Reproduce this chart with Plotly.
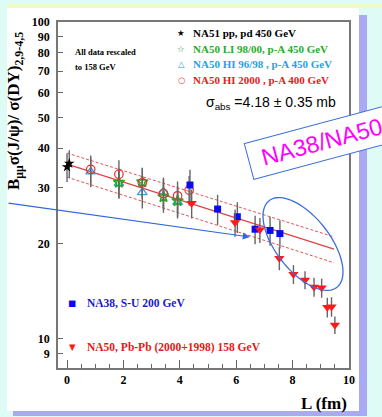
import numpy as np
import plotly.graph_objects as go

# ---------------- data ----------------
na51_L = [0.0, 0.08]
na51_v = [34.9, 35.8]
na51_e = [3.6, 3.6]

li_L = [1.84, 2.67, 3.42, 3.92]
li_v = [31.2, 31.3, 28.1, 27.3]
li_e = [3.3, 3.4, 3.1, 3.0]

hi9698_L = [0.84, 1.84, 2.67, 3.42, 3.92]
hi9698_v = [33.7, 31.0, 29.0, 29.1, 27.0]
hi9698_e = [3.6, 3.3, 3.2, 3.2, 3.0]

hi2000_L = [0.84, 1.84, 2.67, 3.42, 3.92, 4.33]
hi2000_v = [34.3, 33.1, 31.1, 28.8, 28.3, 29.5]
hi2000_e = [3.6, 3.5, 3.4, 3.2, 3.1, 3.2]

na38_L = [4.36, 5.34, 6.04, 6.67, 7.20, 7.55]
na38_v = [30.6, 25.7, 24.3, 22.2, 22.0, 21.5]
na38_e = [3.6, 2.8, 2.7, 2.3, 2.3, 2.2]

pbpb_L = [4.42, 5.96, 6.84, 7.53, 8.03, 8.44, 8.76, 9.03, 9.23, 9.38, 9.50]
pbpb_v = [26.8, 23.3, 22.1, 17.98, 16.0, 15.35, 14.6, 14.5, 12.6, 12.65, 11.07]
pbpb_e = [2.8, 2.3, 2.0, 1.5, 1.1, 1.0, 1.0, 1.0, 0.9, 0.9, 0.7]

fit_L = [0.0, 9.47]
fit_mid = [35.6, 19.2]
fit_hi = [38.6, 21.0]
fit_lo = [32.4, 17.4]

y_ticks = [9, 10, 20, 30, 40, 50, 60, 70, 80, 90, 100]
x_ticks = [0, 2, 4, 6, 8, 10]

# ---------------- layout geometry (pixels) ----------------
W, H = 382, 417
L0, R0, T0, B0 = 58, 349, 22, 368
PW, PH = R0 - L0, B0 - T0


def pxx(x):
    return (x - L0) / PW


def pxy(y):
    return (B0 - y) / PH


SERIF = "Liberation Serif"
SANS = "Liberation Sans"
ERR = "#666666"

fig = go.Figure()

# fit lines
fig.add_trace(go.Scatter(x=fit_L, y=fit_hi, mode="lines",
                         line=dict(color="#e25555", width=1, dash="3px,2px"), showlegend=False))
fig.add_trace(go.Scatter(x=fit_L, y=fit_lo, mode="lines",
                         line=dict(color="#e25555", width=1, dash="3px,2px"), showlegend=False))
fig.add_trace(go.Scatter(x=fit_L, y=fit_mid, mode="lines",
                         line=dict(color="#e04444", width=1.3), showlegend=False))


def series(xs, ys, es, symbol, color, size, lw=0, lcolor=None):
    fig.add_trace(go.Scatter(
        x=xs, y=ys, mode="markers", showlegend=False,
        error_y=dict(type="data", array=es, color=ERR, thickness=1.4, width=0),
        marker=dict(symbol=symbol, color=color, size=size,
                    line=dict(width=lw, color=lcolor or color)),
    ))


series(na51_L, na51_v, na51_e, "star", "black", 8)
series(hi9698_L, hi9698_v, hi9698_e, "triangle-up-open", "#2aa0e8", 8.5, 1.3)
series(li_L, li_v, li_e, "star-open", "#22aa22", 8.5, 1.5)
series(hi2000_L, hi2000_v, hi2000_e, "circle-open", "#e83030", 8.5, 1.2)
series(na38_L, na38_v, na38_e, "square", "#0a0aef", 7)
series(pbpb_L, pbpb_v, pbpb_e, "triangle-down", "#ff1a1a", 9)

shapes = []
# slide background pieces
shapes.append(dict(type="rect", xref="paper", yref="paper", layer="below",
                   x0=pxx(13), x1=pxx(367), y0=pxy(416), y1=pxy(15),
                   fillcolor="#a9a9f5", line=dict(width=0)))
shapes.append(dict(type="rect", xref="paper", yref="paper", layer="below",
                   x0=pxx(7), x1=pxx(382), y0=pxy(8), y1=pxy(4),
                   fillcolor="#eefcc4", line=dict(width=0)))
shapes.append(dict(type="rect", xref="paper", yref="paper", layer="below",
                   x0=pxx(7), x1=pxx(359), y0=pxy(411), y1=pxy(8),
                   fillcolor="white", line=dict(width=0)))

# ellipse around the anomalous points
cx, cy, a, b, th = 303, 244, 55, 27, np.radians(52)
t = np.linspace(0, 2 * np.pi, 80)
ex = cx + a * np.cos(th) * np.cos(t) - b * np.sin(th) * np.sin(t)
ey = cy + a * np.sin(th) * np.cos(t) + b * np.cos(th) * np.sin(t)
path = "M " + " L ".join(f"{pxx(u):.4f},{pxy(v):.4f}" for u, v in zip(ex, ey)) + " Z"
shapes.append(dict(type="path", xref="paper", yref="paper", path=path,
                   line=dict(color="#3b6fd8", width=1.3), layer="above"))

ann = []


def text(x, y, s, color="black", size=12.5, family=SERIF, weight="bold", xanchor="left", **kw):
    ann.append(dict(x=pxx(x), y=pxy(y), xref="paper", yref="paper", text=s, showarrow=False,
                    xanchor=xanchor, yanchor="middle",
                    font=dict(family=family, size=size, color=color, weight=weight), **kw))


# top legend
rows = [
    (33, "★", "black", "NA51 pp, pd 450 GeV", "black"),
    (49, "☆", "#22aa22", "NA50 LI 98/00, p-A 450 GeV", "#1fae1f"),
    (64, "△", "#2aa0e8", "NA50 HI 96/98 , p-A 450 GeV", "#2a9fe0"),
    (80, "○", "#e83030", "NA50 HI 2000 , p-A 400 GeV", "#e52020"),
]
for y, sym, sc, label, tc in rows:
    text(181, y, sym, sc, size=8.5, family="DejaVu Sans", weight="normal", xanchor="center")
    text(191, y, label, tc, size=11)

text(73, 52, "All data rescaled", size=8.5)
text(73, 67, "to 158 GeV", size=8.5)

text(338, 103, "σ<sub>abs</sub> =4.18 ± 0.35 mb", size=14, family=SANS, weight="normal",
     xanchor="right")

# bottom legend
text(72, 303, "■", "#0a0aef", size=8.5, family="DejaVu Sans", weight="normal", xanchor="center")
text(85, 303, "NA38, S-U 200 GeV", "#1a1acc", size=11.5)
text(72, 347, "▼", "#ff1a1a", size=8.5, family="DejaVu Sans", weight="normal", xanchor="center")
text(85, 347, "NA50, Pb-Pb (2000+1998) 158 GeV", "#e81818", size=11.5)

# axis titles
text(15, 111, "B<sub>μμ</sub>σ(J/ψ)/ σ(DY)<sub>2,9-4,5</sub>", size=17, xanchor="center",
     textangle=-90)
text(349, 403, "L (fm)", size=17, xanchor="right")

# magenta boxed label
ann.append(dict(x=pxx(322), y=pxy(142), xref="paper", yref="paper", text="NA38/NA50",
                showarrow=False, xanchor="center", yanchor="middle", textangle=-15,
                width=146, height=32, borderpad=2, bgcolor="white",
                bordercolor="#3b6fd8", borderwidth=1,
                font=dict(family=SANS, size=23.5, color="#ff00ff")))

# blue arrow
ann.append(dict(x=pxx(250), y=pxy(237), xref="paper", yref="paper", text="",
                showarrow=True, ax=7 - 250, ay=203 - 237, axref="pixel", ayref="pixel",
                arrowhead=2, arrowsize=1.2, arrowwidth=1.2, arrowcolor="#3366dd", standoff=0))

fig.update_layout(
    width=W, height=H,
    margin=dict(l=L0, r=W - R0, t=T0, b=H - B0, pad=0),
    paper_bgcolor="#defcf5", plot_bgcolor="white",
    shapes=shapes, annotations=ann, showlegend=False,
    xaxis=dict(range=[-0.32, 10.0], tickvals=x_ticks, ticktext=[str(v) for v in x_ticks],
               ticks="inside", ticklen=8, tickcolor="#666", showgrid=False, zeroline=False,
               showline=True, mirror=True, linecolor="#777", linewidth=1.5,
               tickfont=dict(family=SERIF, size=12, color="black", weight="bold"),
               minor=dict(dtick=0.5, tick0=0, ticks="inside", ticklen=4, tickcolor="#666",
                          showgrid=False)),
    yaxis=dict(type="log", range=[np.log10(8.1), 2.0], tickvals=y_ticks,
               ticktext=[str(v) for v in y_ticks], ticks="inside", ticklen=5, tickcolor="#666",
               showgrid=False, zeroline=False, showline=True, mirror=True, linecolor="#777",
               linewidth=1.5, ticklabelstandoff=4,
               tickfont=dict(family=SERIF, size=12, color="black", weight="bold")),
)

fig.write_html("out.html", config={"displayModeBar": False},
               post_script="document.body.style.margin='0';document.body.style.overflow='hidden';")
